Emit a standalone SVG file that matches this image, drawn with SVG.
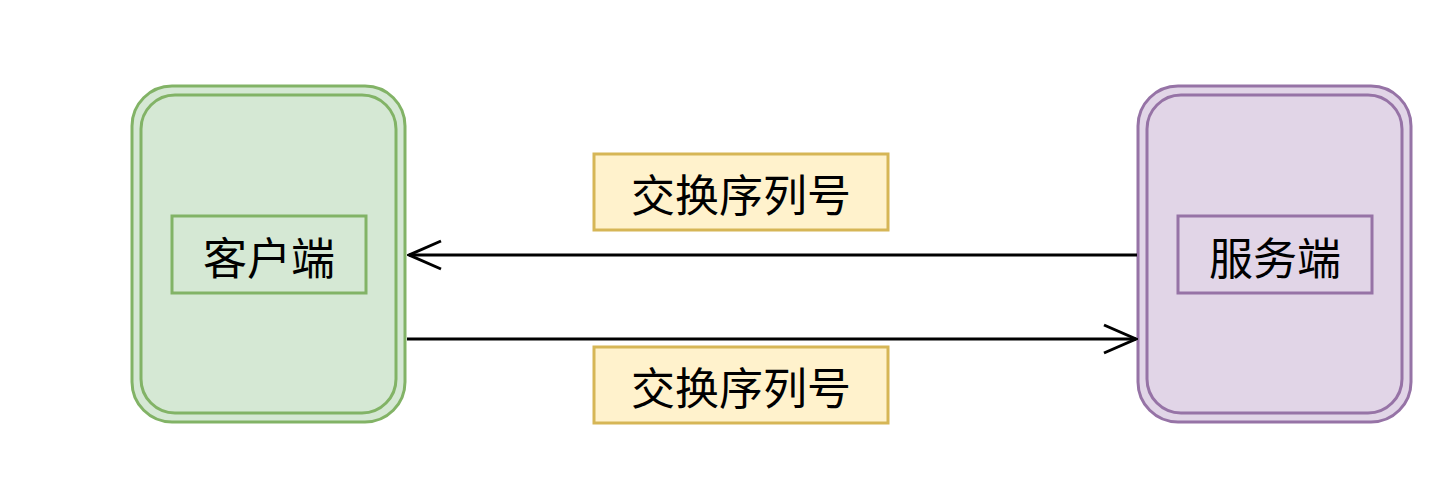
<svg xmlns="http://www.w3.org/2000/svg" width="1454" height="486" viewBox="0 0 1454 486">
<style>
text{font-family:"Noto Sans CJK SC","Liberation Sans",sans-serif;font-size:44px;fill:#000;text-anchor:middle;dominant-baseline:central}
.g{fill:#d5e8d4;stroke:#82b366;stroke-width:3}
.p{fill:#e1d5e7;stroke:#9673a6;stroke-width:3}
.y{fill:#fff2cc;stroke:#d6b656;stroke-width:3}
.c{stroke:#000;stroke-width:3;fill:none}
</style>
<defs><marker id="a" viewBox="0 0 20 20" refX="18" refY="10" markerWidth="20" markerHeight="20" markerUnits="userSpaceOnUse" orient="auto"><path d="M2,2 L18,10 L2,18" fill="none" stroke="#000" stroke-width="3"/></marker>
<marker id="b" viewBox="0 0 36 36" refX="34" refY="18" markerWidth="36" markerHeight="36" markerUnits="userSpaceOnUse" orient="auto"><path d="M2,4 L34,18 L2,32" fill="none" stroke="#000" stroke-width="3"/></marker></defs>
<g id="client"><rect class="g" x="132" y="86" width="273" height="336" rx="40"/><rect class="g" x="141" y="95" width="255" height="318" rx="34"/><rect class="g" x="172" y="216" width="194" height="77"/><text x="269" y="256">客户端</text></g>
<g id="server"><rect class="p" x="1138" y="86" width="273" height="336" rx="40"/><rect class="p" x="1147" y="95" width="255" height="318" rx="34"/><rect class="p" x="1178" y="216" width="194" height="77"/><text x="1275" y="256">服务端</text></g>
<g id="label1"><rect class="y" x="594" y="154" width="294" height="76"/><text x="741" y="193">交换序列号</text></g>
<g id="label2"><rect class="y" x="594" y="347" width="294" height="76"/><text x="741" y="386">交换序列号</text></g>
<g id="connectors"><path class="c" d="M1137,255 H409" marker-end="url(#b)"/><path class="c" d="M407,339 H1136" marker-end="url(#b)"/></g>
</svg>
